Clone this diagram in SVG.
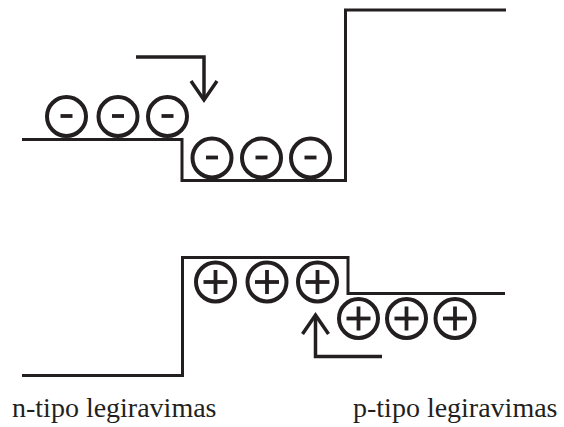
<svg xmlns="http://www.w3.org/2000/svg" width="564" height="427" viewBox="0 0 564 427">
  <style>
    .band { fill: none; stroke: #231f20; stroke-width: 3; stroke-linejoin: miter; }
    .arrow { fill: none; stroke: #231f20; stroke-width: 3.5; stroke-linejoin: miter; }
    .ring { fill: #ffffff; stroke: #231f20; stroke-width: 4; }
    .sign { fill: none; stroke: #231f20; stroke-width: 3.8; stroke-linecap: butt; }
    .label { font-family: "Liberation Serif", "Times New Roman", serif; font-size: 28px; fill: #231f20; }
  </style>
  <defs>
    <g id="electron">
      <circle class="ring" cx="0" cy="0" r="19.5"/>
      <line class="sign" x1="-6" y1="-0.5" x2="6" y2="-0.5"/>
    </g>
    <g id="hole">
      <circle class="ring" cx="0" cy="0" r="19.5"/>
      <line class="sign" x1="-12" y1="0" x2="12" y2="0"/>
      <line class="sign" x1="0" y1="-12" x2="0" y2="12"/>
    </g>
  </defs>

  <!-- conduction band edge -->
  <g id="conduction-band">
    <polyline class="band" points="22,139.5 182,139.5 182,180.5 345.5,180.5 345.5,10 506,10"/>
  </g>

  <!-- valence band edge -->
  <g id="valence-band">
    <polyline class="band" points="22,375.5 182.5,375.5 182.5,257.5 348,257.5 348,293.5 505,293.5"/>
  </g>

  <!-- electrons -->
  <g id="electrons-n">
    <use href="#electron" x="66.5" y="116.5"/>
    <use href="#electron" x="118" y="116.5"/>
    <use href="#electron" x="167.5" y="116.5"/>
  </g>
  <g id="electrons-p">
    <use href="#electron" x="212" y="158"/>
    <use href="#electron" x="261.5" y="158"/>
    <use href="#electron" x="310.5" y="158"/>
  </g>

  <!-- holes -->
  <g id="holes-n">
    <use href="#hole" x="215.5" y="282"/>
    <use href="#hole" x="267" y="282"/>
    <use href="#hole" x="317.5" y="282"/>
  </g>
  <g id="holes-p">
    <use href="#hole" x="358.5" y="318.5"/>
    <use href="#hole" x="406.5" y="318.5"/>
    <use href="#hole" x="455" y="318.5"/>
  </g>

  <!-- carrier flow arrows -->
  <g id="connectors">
    <polyline class="arrow" points="136,57 204,57 204,99"/>
    <polyline class="arrow" points="191,81 204,100 217,81"/>
    <polyline class="arrow" points="382,356.5 315.5,356.5 315.5,316"/>
    <polyline class="arrow" points="302.5,334 315.5,315 328.5,334"/>
  </g>

  <!-- region labels -->
  <g id="labels">
    <text class="label" x="12" y="417">n-tipo legiravimas</text>
    <text class="label" x="353" y="417">p-tipo legiravimas</text>
  </g>
</svg>
